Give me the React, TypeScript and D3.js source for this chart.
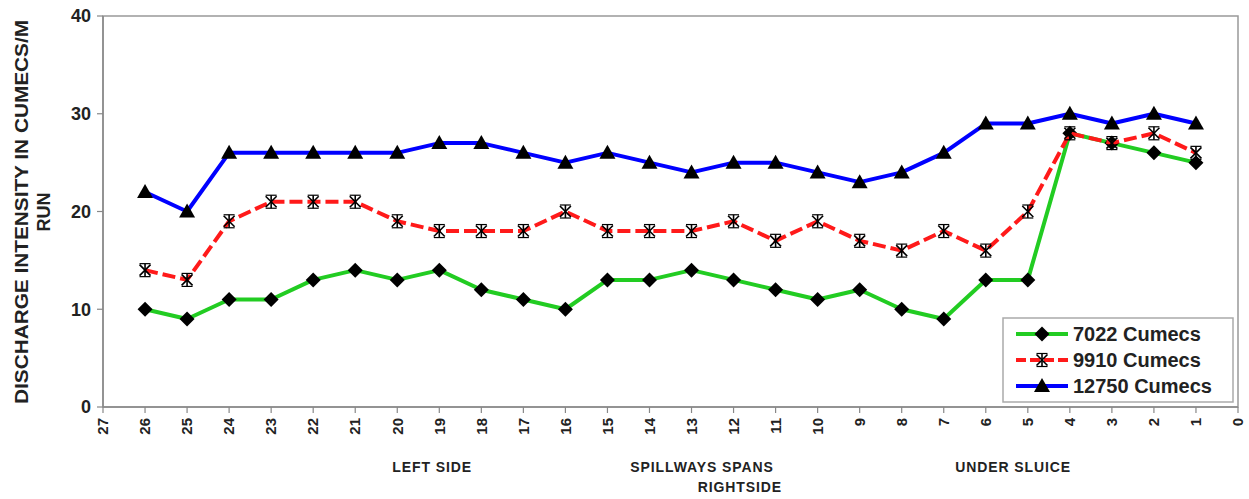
import React from "react";
import * as d3 from "d3";

const positions = [26, 25, 24, 23, 22, 21, 20, 19, 18, 17, 16, 15, 14, 13, 12, 11, 10, 9, 8, 7, 6, 5, 4, 3, 2, 1];
const series7022 = [10, 9, 11, 11, 13, 14, 13, 14, 12, 11, 10, 13, 13, 14, 13, 12, 11, 12, 10, 9, 13, 13, 28, 27, 26, 25];
const series9910 = [14, 13, 19, 21, 21, 21, 19, 18, 18, 18, 20, 18, 18, 18, 19, 17, 19, 17, 16, 18, 16, 20, 28, 27, 28, 26];
const series12750 = [22, 20, 26, 26, 26, 26, 26, 27, 27, 26, 25, 26, 25, 24, 25, 25, 24, 23, 24, 26, 29, 29, 30, 29, 30, 29];
const xTicks = d3.range(27, -1, -1);
const yTicks = [0, 10, 20, 30, 40];
const seriesNames = ["7022 Cumecs", "9910 Cumecs", "12750 Cumecs"];
const sectionLabels = [
  { text: "LEFT SIDE", at: 19.17, line: 0 },
  { text: "SPILLWAYS SPANS", at: 12.75, line: 0 },
  { text: "RIGHTSIDE", at: 11.85, line: 1 },
  { text: "UNDER SLUICE", at: 5.35, line: 0 },
];

const FONT = "Arial, 'Liberation Sans', sans-serif";

function Marker({ type, x, y }: { type: string; x: number; y: number }) {
  if (type === "diamond") {
    const s = 7.5;
    return <path d={`M${x},${y - s}L${x + s},${y}L${x},${y + s}L${x - s},${y}Z`} fill="#000" />;
  }
  if (type === "star") {
    const s = 5.5;
    return (
      <g stroke="#000" strokeWidth={1.6}>
        <line x1={x - s} y1={y - s} x2={x + s} y2={y + s} />
        <line x1={x - s} y1={y + s} x2={x + s} y2={y - s} />
        <line x1={x} y1={y - s - 1} x2={x} y2={y + s + 1} />
        <line x1={x - s} y1={y - s - 1} x2={x + s} y2={y - s - 1} strokeWidth={1.2} />
        <line x1={x - s} y1={y + s + 1} x2={x + s} y2={y + s + 1} strokeWidth={1.2} />
      </g>
    );
  }
  const s = 8;
  return <path d={`M${x},${y - s}L${x + s},${y + s * 0.75}L${x - s},${y + s * 0.75}Z`} fill="#000" />;
}

export default function App() {
  const W = 1249, H = 499;
  const left = 103, right = 1238, top = 16, bottom = 407;
  const x = d3.scaleLinear().domain([27, 0]).range([left, right]);
  const y = d3.scaleLinear().domain([0, 40]).range([bottom, top]);
  const line = d3.line<[number, number]>().x(d => x(d[0])).y(d => y(d[1]));

  const series = [
    { name: seriesNames[0], values: series7022, color: "#22cc22", dash: undefined, marker: "diamond" },
    { name: seriesNames[1], values: series9910, color: "#ff1a1a", dash: "13 5", marker: "star" },
    { name: seriesNames[2], values: series12750, color: "#0000ff", dash: undefined, marker: "triangle" },
  ];

  const legX = 1003, legY = 318, legW = 230, legH = 84;
  const titleCy = 212;

  return (
    <svg width={W} height={H} style={{ position: "absolute", left: 0, top: 0 }} fontFamily={FONT}>
      <rect width={W} height={H} fill="#fff" />
      <rect x={left} y={top} width={right - left} height={bottom - top} fill="none" stroke="#999" strokeWidth={1.5} />
      {/* axes */}
      <line x1={left} y1={top} x2={left} y2={bottom} stroke="#888" strokeWidth={1.5} />
      <line x1={left} y1={bottom} x2={right} y2={bottom} stroke="#888" strokeWidth={1.5} />
      {yTicks.map(t => (
        <g key={t}>
          <line x1={left - 6} x2={left} y1={y(t)} y2={y(t)} stroke="#888" strokeWidth={1.2} />
          <text x={left - 12} y={y(t)} dy="0.35em" textAnchor="end" fontSize={18} fontWeight="bold" fill="#222">{t}</text>
        </g>
      ))}
      {xTicks.map(t => (
        <g key={t}>
          <line x1={x(t)} x2={x(t)} y1={bottom} y2={bottom + 6} stroke="#888" strokeWidth={1.2} />
          <text transform={`translate(${x(t)},${bottom + 11}) rotate(-90)`} dy="0.35em" textAnchor="end" fontSize={15} fontWeight="bold" fill="#222">{t}</text>
        </g>
      ))}
      <text transform={`translate(28,${titleCy}) rotate(-90)`} textAnchor="middle" fontSize={18} fontWeight="bold" fill="#222"
        textLength={384} lengthAdjust="spacingAndGlyphs">
        DISCHARGE INTENSITY IN CUMECS/M
      </text>
      <text transform={`translate(50,${titleCy}) rotate(-90)`} textAnchor="middle" fontSize={18} fontWeight="bold" fill="#222">
        RUN
      </text>
      {sectionLabels.map(s => (
        <text key={s.text} x={x(s.at)} y={472 + s.line * 20} textAnchor="middle" fontSize={14} fontWeight="bold" fill="#222" letterSpacing={0.9}>
          {s.text}
        </text>
      ))}
      {/* series */}
      {series.map(s => {
        const pts: [number, number][] = positions.map((p, i) => [p, s.values[i]]);
        return (
          <g key={s.name}>
            <path d={line(pts) || ""} fill="none" stroke={s.color} strokeWidth={4} strokeDasharray={s.dash} strokeLinejoin="round" />
            {pts.map((p, i) => <Marker key={i} type={s.marker} x={x(p[0])} y={y(p[1])} />)}
          </g>
        );
      })}
      {/* legend */}
      <rect x={legX} y={legY} width={legW} height={legH} fill="#fff" stroke="#aaa" strokeWidth={1.5} />
      {series.map((s, i) => {
        const cy = legY + 16 + i * 26;
        return (
          <g key={s.name}>
            <line x1={legX + 13} x2={legX + 65} y1={cy} y2={cy} stroke={s.color} strokeWidth={4} strokeDasharray={s.dash ? "10 4" : undefined} />
            <Marker type={s.marker} x={legX + 39} y={cy} />
            <text x={legX + 70} y={cy} dy="0.36em" fontSize={20} fontWeight="bold" fill="#222">{s.name}</text>
          </g>
        );
      })}
    </svg>
  );
}
